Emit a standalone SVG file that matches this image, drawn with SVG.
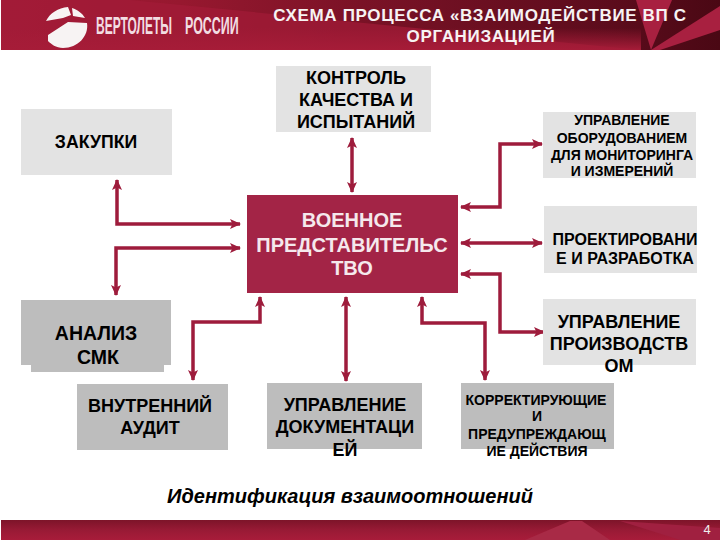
<svg xmlns="http://www.w3.org/2000/svg" width="720" height="540" viewBox="0 0 720 540">
<style>
text{font-family:"Liberation Sans",Arial,sans-serif;font-weight:bold;text-anchor:middle;fill:#000}
.l{fill:#e3e3e3}.g{fill:#bdbdbd}
.c path{fill:none;stroke:#9e1c3c;stroke-width:3.5;marker-start:url(#a);marker-end:url(#a)}
</style>
<defs>
<marker id="a" markerUnits="userSpaceOnUse" viewBox="0 0 11 11" refX="10" refY="5.5" markerWidth="11" markerHeight="11" orient="auto-start-reverse"><path d="M0 0.5L11 5.5L0 10.5L2.5 5.5Z" fill="#9e1c3c"/></marker>
<linearGradient id="h" x1="0" y1="0" x2="1" y2="0"><stop offset="0" stop-color="#a21b37"/><stop offset=".25" stop-color="#97182f"/><stop offset=".5" stop-color="#7a1226"/><stop offset=".85" stop-color="#5c0c1c"/><stop offset="1" stop-color="#4a0814"/></linearGradient>
<linearGradient id="h2" x1="0" y1="0" x2="0" y2="1"><stop offset="0" stop-color="#a61c38" stop-opacity="0"/><stop offset="1" stop-color="#a61c38"/></linearGradient>
<linearGradient id="f" x1="0" y1="0" x2="0" y2="1"><stop offset="0" stop-color="#7d1429"/><stop offset=".5" stop-color="#981a35"/><stop offset="1" stop-color="#a81c3a"/></linearGradient>
</defs>
<rect width="720" height="540" fill="#fff"/>
<g id="header">
<rect x="1" y="0" width="719" height="50" fill="url(#h)"/>
<path d="M1 50V0H130L640 50Z" fill="#a21b37" opacity=".7"/>
<rect x="1" y="28" width="640" height="22" fill="url(#h2)"/>
<path d="M636 0H672L651 50Z" fill="#a82040"/><path d="M651 50L720 6V30L660 50Z" fill="#a82040"/>
<path d="M46 21C50 13 58 8 68 7L71 15 63 18ZM72 8C78 10 82 13 85 18L73 16ZM48 35 68 22 87 23C89 36 78 48 63 48 56 48 51 44 48 41Z" fill="#f7f3f3"/>
<text transform="translate(96 34) scale(.5 1)" font-size="24" style="text-anchor:start;fill:#f2dde2">ВЕРТОЛЕТЫ</text>
<text transform="translate(185 34) scale(.52 1)" font-size="24" style="text-anchor:start;fill:#f2dde2">РОССИИ</text>
<text x="480" y="21" font-size="17" letter-spacing=".65" style="fill:#f7f3f3">СХЕМА ПРОЦЕССА «ВЗАИМОДЕЙСТВИЕ ВП С</text>
<text x="481" y="42" font-size="17" letter-spacing=".65" style="fill:#f7f3f3">ОРГАНИЗАЦИЕЙ</text>
</g>
<g id="footer"><rect x="1" y="520" width="719" height="20" fill="url(#f)"/><path d="M525 540L570 521H582L610 540Z" fill="#a82a46"/><path d="M620 521L720 528V540H680Z" fill="#a02040"/><text x="707" y="534" font-size="13" style="font-weight:normal;fill:#eee">4</text></g>
<g class="c">
<path d="M117 180V224H240"/>
<path d="M240 248H116V295"/>
<path d="M352 138V192"/>
<path d="M461 207H500V144H542"/>
<path d="M461 243H542"/>
<path d="M461 274H500V332H544"/>
<path d="M422 297V323H485V380"/>
<path d="M346 297V381"/>
<path d="M260 297V322H193V380"/>
</g>
<g id="n-kontrol"><rect class="l" x="276" y="66" width="155" height="66"/><text font-size="18" x="356" y="84">КОНТРОЛЬ</text><text font-size="18" x="356" y="106">КАЧЕСТВА И</text><text font-size="18" x="356" y="128">ИСПЫТАНИЙ</text></g>
<g id="n-zakupki"><rect class="l" x="21" y="109" width="151" height="66"/><text font-size="17.700" x="96" y="148">ЗАКУПКИ</text></g>
<g id="n-vp"><rect x="247" y="195" width="211" height="98" fill="#a32446"/><text font-size="20" x="352" y="227" style="fill:#f5e8ec">ВОЕННОЕ</text><text font-size="20" x="352" y="252" style="fill:#f5e8ec">ПРЕДСТАВИТЕЛЬС</text><text font-size="20" x="352" y="275" style="fill:#f5e8ec">ТВО</text></g>
<g id="n-obor"><rect class="l" x="543" y="112" width="153" height="66"/><text font-size="14" x="622" y="125">УПРАВЛЕНИЕ</text><text font-size="14" x="622" y="143">ОБОРУДОВАНИЕМ</text><text font-size="14" x="622" y="160">ДЛЯ МОНИТОРИНГА</text><text font-size="14" x="622" y="176">И ИЗМЕРЕНИЙ</text></g>
<g id="n-proekt"><rect class="l" x="544" y="206" width="153" height="67"/><text font-size="16" x="625" y="245">ПРОЕКТИРОВАНИ</text><text font-size="16" x="625" y="264">Е И РАЗРАБОТКА</text></g>
<g id="n-proizv"><rect class="l" x="543" y="299" width="153" height="66"/><text font-size="18" x="619" y="328">УПРАВЛЕНИЕ</text><text font-size="18" x="619" y="350">ПРОИЗВОДСТВ</text><text font-size="18" x="619" y="372">ОМ</text></g>
<g id="n-analiz"><rect class="g" x="21" y="300" width="150" height="65"/><rect class="g" x="31" y="360" width="133" height="12"/><text font-size="19.500" x="96" y="340">АНАЛИЗ</text><text font-size="19.500" x="98" y="364">СМК</text></g>
<g id="n-audit"><rect class="g" x="77" y="384" width="151" height="66"/><text font-size="18" x="150" y="412">ВНУТРЕННИЙ</text><text font-size="18" x="150" y="434">АУДИТ</text></g>
<g id="n-doc"><rect class="g" x="267" y="383" width="155" height="66"/><text font-size="18" x="345" y="411">УПРАВЛЕНИЕ</text><text font-size="18" x="345" y="433">ДОКУМЕНТАЦИ</text><text font-size="18" x="345" y="456">ЕЙ</text></g>
<g id="n-korr"><rect class="g" x="461" y="383" width="153" height="66"/><text font-size="14" x="536" y="405">КОРРЕКТИРУЮЩИЕ</text><text font-size="14" x="537" y="421">И</text><text font-size="14" x="537" y="439">ПРЕДУПРЕЖДАЮЩ</text><text font-size="14" x="537" y="456">ИЕ ДЕЙСТВИЯ</text></g>
<text x="350" y="503" font-size="20" style="font-style:italic">Идентификация взаимоотношений</text>
</svg>
